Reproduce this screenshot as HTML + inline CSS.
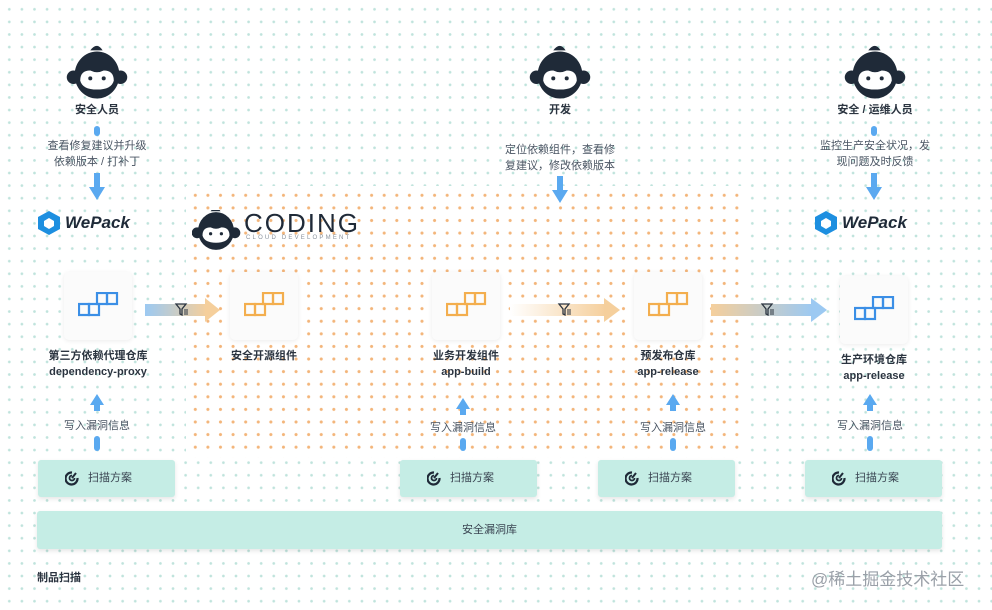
<!DOCTYPE html>
<html><head><meta charset="utf-8"><style>
*{margin:0;padding:0;box-sizing:border-box}
body{width:992px;height:610px;position:relative;overflow:hidden;background:#fff;font-family:"Liberation Sans","Noto Sans CJK SC",sans-serif;color:#2b3440}
.dots{position:absolute;left:0;top:0;width:992px;height:610px;background-image:radial-gradient(circle,#bfe3dc 1.1px,transparent 1.6px);background-size:12.6px 12.6px;background-position:3px 3px}
.odots{position:absolute;left:186px;top:186px;width:560px;height:272px;background:#fff;background-image:radial-gradient(circle,#f3b57a 1.3px,transparent 1.8px);background-size:12.6px 12.6px;background-position:3px 3px}
.a{position:absolute}
.t{position:absolute;font-size:11px;text-align:center;line-height:16px;white-space:nowrap}
.card{position:absolute;width:68px;height:68px;background:#fbfbfb;border-radius:5px;box-shadow:0 1px 5px rgba(0,0,0,.08)}
.card svg{position:absolute;left:14px;top:20px}
.scan{position:absolute;height:37px;width:137px;background:#c5ede5;border-radius:3px;box-shadow:0 2px 5px rgba(0,0,0,.1);font-size:11px;line-height:37px;color:#3a4552}
.scan span{position:absolute;left:50px}
.scan svg{position:absolute;left:27px;top:11px}
.v{position:absolute;width:6px;background:#5aa9f0;border-radius:3px}
</style></head><body>
<div class="dots"></div>
<div class="odots"></div>

<svg width="0" height="0" style="position:absolute"><defs>
<g id="mk"><path d="M-6,-22 Q0,-30 5,-22" fill="#1f2a38"/><circle cx="-21" cy="2" r="6" fill="#1f2a38"/><circle cx="21" cy="2" r="6" fill="#1f2a38"/><ellipse cx="0" cy="0" rx="20" ry="21" fill="#1f2a38"/><path d="M-15,5 Q-15,-4 -6,-4 Q0,-1 6,-4 Q15,-4 15,5 Q13,13 0,13 Q-13,13 -15,5Z" fill="#fff"/><circle cx="-6" cy="3" r="1.8" fill="#1f2a38"/><circle cx="6" cy="3" r="1.8" fill="#1f2a38"/></g>
<g id="rb"><rect x="19" y="1" width="10" height="11"/><rect x="29" y="1" width="10" height="11"/><rect x="1" y="12" width="10" height="11"/><rect x="11" y="12" width="10" height="11"/></g>
<g id="scanic"><path d="M7,1.5 A6,6 0 1 0 12.5,7" fill="none" stroke="#1f2a38" stroke-width="2.2"/><path d="M7,4.5 A2.5,2.5 0 1 0 9.5,7" fill="none" stroke="#1f2a38" stroke-width="1.8"/><path d="M7,7 L11,2" stroke="#1f2a38" stroke-width="2"/></g>
<g id="fl"><path d="M0,0 H10 L6,5 V11 L4,10 V5 Z" fill="none" stroke="#2b3440" stroke-width="1.3"/><path d="M8,6 H12 M8,8 H12 M8,10 H12" stroke="#2b3440" stroke-width="1"/></g>
</defs></svg>

<!-- monkeys -->
<svg class="a" style="left:62px;top:44px" width="70" height="58"><use href="#mk" transform="translate(35,31) scale(1.12)"/></svg>
<svg class="a" style="left:525px;top:44px" width="70" height="58"><use href="#mk" transform="translate(35,31) scale(1.12)"/></svg>
<svg class="a" style="left:840px;top:44px" width="70" height="58"><use href="#mk" transform="translate(35,31) scale(1.12)"/></svg>
<div class="t" style="left:57px;top:102px;width:80px;font-weight:bold">安全人员</div>
<div class="t" style="left:520px;top:102px;width:80px;font-weight:bold">开发</div>
<div class="t" style="left:825px;top:102px;width:100px;font-weight:bold">安全 / 运维人员</div>

<!-- top arrows -->
<div class="v" style="left:94px;top:126px;height:10px"></div>
<div class="t" style="left:37px;top:138px;width:120px;color:#4a5563">查看修复建议并升级<br>依赖版本 / 打补丁</div>
<svg class="a" style="left:88px;top:173px" width="18" height="28"><rect x="6" y="0" width="6" height="16" fill="#5aa9f0"/><path d="M1,14 H17 L9,27Z" fill="#5aa9f0"/></svg>
<div class="t" style="left:495px;top:142px;width:130px;color:#4a5563">定位依赖组件，查看修<br>复建议，修改依赖版本</div>
<svg class="a" style="left:551px;top:176px" width="18" height="28"><rect x="6" y="0" width="6" height="16" fill="#5aa9f0"/><path d="M1,14 H17 L9,27Z" fill="#5aa9f0"/></svg>
<div class="v" style="left:871px;top:126px;height:10px"></div>
<div class="t" style="left:810px;top:138px;width:130px;color:#4a5563">监控生产安全状况，发<br>现问题及时反馈</div>
<svg class="a" style="left:865px;top:173px" width="18" height="28"><rect x="6" y="0" width="6" height="16" fill="#5aa9f0"/><path d="M1,14 H17 L9,27Z" fill="#5aa9f0"/></svg>

<!-- WePack -->
<svg class="a" style="left:37px;top:210px" width="24" height="26"><path d="M12,1 L23,7 V19 L12,25 L1,19 V7Z" fill="#1d8fe0"/><path d="M12,8 L17,11 V16 L12,19 L7,16 V11Z" fill="#fff"/></svg>
<div class="t" style="left:65px;top:212px;font-size:17px;line-height:22px;font-weight:bold;font-style:italic;color:#1f2a38">WePack</div>
<svg class="a" style="left:814px;top:210px" width="24" height="26"><path d="M12,1 L23,7 V19 L12,25 L1,19 V7Z" fill="#1d8fe0"/><path d="M12,8 L17,11 V16 L12,19 L7,16 V11Z" fill="#fff"/></svg>
<div class="t" style="left:842px;top:212px;font-size:17px;line-height:22px;font-weight:bold;font-style:italic;color:#1f2a38">WePack</div>

<!-- CODING -->
<svg class="a" style="left:192px;top:210px" width="50" height="40"><use href="#mk" transform="translate(24,21) scale(0.9)"/></svg>
<div class="t" style="left:244px;top:209px;font-size:26px;line-height:28px;letter-spacing:2px;color:#1f2a38">CODING</div>
<div class="t" style="left:246px;top:234px;font-size:6px;line-height:8px;letter-spacing:2.2px;color:#8a929c">CLOUD DEVELOPMENT</div>

<!-- cards -->
<div class="card" style="left:64px;top:272px"><svg width="42" height="26" fill="none" stroke="#3b8fe6" stroke-width="2.2"><use href="#rb"/></svg></div>
<div class="card" style="left:230px;top:272px"><svg width="42" height="26" fill="none" stroke="#f3ae4e" stroke-width="2.2"><use href="#rb"/></svg></div>
<div class="card" style="left:432px;top:272px"><svg width="42" height="26" fill="none" stroke="#f3ae4e" stroke-width="2.2"><use href="#rb"/></svg></div>
<div class="card" style="left:634px;top:272px"><svg width="42" height="26" fill="none" stroke="#f3ae4e" stroke-width="2.2"><use href="#rb"/></svg></div>
<div class="card" style="left:840px;top:276px"><svg width="42" height="26" fill="none" stroke="#3b8fe6" stroke-width="2.2"><use href="#rb"/></svg></div>

<!-- horizontal arrows -->
<svg class="a" style="left:145px;top:296px" width="80" height="28"><defs><linearGradient id="g1"><stop offset="0" stop-color="#9cc9f2"/><stop offset="1" stop-color="#f5cf9c"/></linearGradient></defs><rect x="0" y="8" width="62" height="12" fill="url(#g1)"/><path d="M60,2 L75,14 L60,26Z" fill="#f5cf9c"/><use href="#fl" x="31" y="8"/></svg>
<svg class="a" style="left:510px;top:296px" width="115" height="28"><defs><linearGradient id="g2"><stop offset="0" stop-color="#fff"/><stop offset="1" stop-color="#f5cf9c"/></linearGradient></defs><rect x="0" y="8" width="96" height="12" fill="url(#g2)"/><path d="M94,2 L110,14 L94,26Z" fill="#f5cf9c"/><use href="#fl" x="49" y="8"/></svg>
<svg class="a" style="left:711px;top:296px" width="120" height="28"><defs><linearGradient id="g3"><stop offset="0" stop-color="#f5cf9c"/><stop offset="1" stop-color="#9cc9f2"/></linearGradient></defs><rect x="0" y="8" width="102" height="12" fill="url(#g3)"/><path d="M100,2 L116,14 L100,26Z" fill="#9cc9f2"/><use href="#fl" x="51" y="8"/></svg>

<!-- card labels -->
<div class="t" style="left:38px;top:348px;width:120px;font-weight:bold">第三方依赖代理仓库<br>dependency-proxy</div>
<div class="t" style="left:214px;top:348px;width:100px;font-weight:bold">安全开源组件</div>
<div class="t" style="left:416px;top:348px;width:100px;font-weight:bold">业务开发组件<br>app-build</div>
<div class="t" style="left:618px;top:348px;width:100px;font-weight:bold">预发布仓库<br>app-release</div>
<div class="t" style="left:824px;top:352px;width:100px;font-weight:bold">生产环境仓库<br>app-release</div>

<!-- up arrows -->
<svg class="a" style="left:89px;top:393px" width="16" height="18"><path d="M1,12 L8,1 L15,12Z" fill="#5aa9f0"/><rect x="5" y="10" width="6" height="8" fill="#5aa9f0"/></svg>
<div class="t" style="left:47px;top:418px;width:100px;color:#4a5563">写入漏洞信息</div>
<div class="v" style="left:94px;top:436px;height:15px"></div>
<svg class="a" style="left:455px;top:397px" width="16" height="18"><path d="M1,12 L8,1 L15,12Z" fill="#5aa9f0"/><rect x="5" y="10" width="6" height="8" fill="#5aa9f0"/></svg>
<div class="t" style="left:413px;top:420px;width:100px;color:#4a5563">写入漏洞信息</div>
<div class="v" style="left:460px;top:438px;height:13px"></div>
<svg class="a" style="left:665px;top:393px" width="16" height="18"><path d="M1,12 L8,1 L15,12Z" fill="#5aa9f0"/><rect x="5" y="10" width="6" height="8" fill="#5aa9f0"/></svg>
<div class="t" style="left:623px;top:420px;width:100px;color:#4a5563">写入漏洞信息</div>
<div class="v" style="left:670px;top:438px;height:13px"></div>
<svg class="a" style="left:862px;top:393px" width="16" height="18"><path d="M1,12 L8,1 L15,12Z" fill="#5aa9f0"/><rect x="5" y="10" width="6" height="8" fill="#5aa9f0"/></svg>
<div class="t" style="left:820px;top:418px;width:100px;color:#4a5563">写入漏洞信息</div>
<div class="v" style="left:867px;top:436px;height:15px"></div>

<!-- scan -->
<div class="scan" style="left:38px;top:460px"><svg width="15" height="15"><use href="#scanic"/></svg><span>扫描方案</span></div>
<div class="scan" style="left:400px;top:460px"><svg width="15" height="15"><use href="#scanic"/></svg><span>扫描方案</span></div>
<div class="scan" style="left:598px;top:460px"><svg width="15" height="15"><use href="#scanic"/></svg><span>扫描方案</span></div>
<div class="scan" style="left:805px;top:460px"><svg width="15" height="15"><use href="#scanic"/></svg><span>扫描方案</span></div>

<div class="scan" style="left:37px;top:511px;width:905px;height:38px;text-align:center;line-height:38px">安全漏洞库</div>
<div class="t" style="left:37px;top:570px;font-weight:bold">制品扫描</div>
<div class="t" style="left:811px;top:570px;font-size:17px;line-height:20px;color:#9aa0a8">@稀土掘金技术社区</div>
</body></html>
